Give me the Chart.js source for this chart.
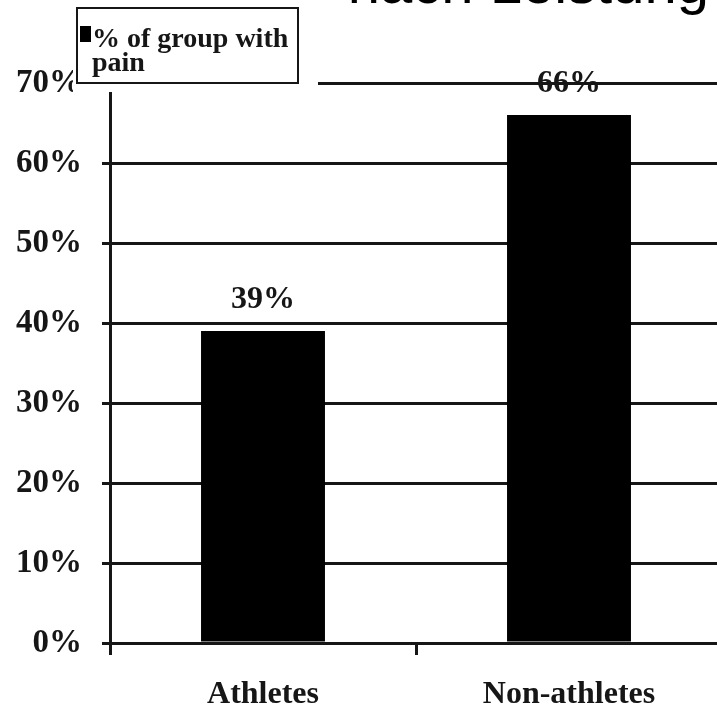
<!DOCTYPE html>
<html>
<head>
<meta charset="utf-8">
<script src="https://cdn.jsdelivr.net/npm/chart.js@4.4.1/dist/chart.umd.min.js"></script>
<style>
  html, body { margin: 0; padding: 0; background: #fff; overflow: hidden; }
  #wrap { position: relative; width: 740px; height: 715px; }
</style>
</head>
<body>
<div id="wrap"><canvas id="chart" width="740" height="715"></canvas></div>
<script>
const categories = ['Athletes', 'Non-athletes'];
const painPercent = [39, 66];
const yTicks = [0, 10, 20, 30, 40, 50, 60, 70];
const legendLines = ['% of group with', 'pain'];
const headerText = 'nach Leistung';

const INK = '#161616';
const SERIF = '"Liberation Serif", "Times New Roman", serif';

// value labels above the bars, legend box and the clipped header line
const overlay = {
    id: 'overlay',
    afterDatasetsDraw(chart) {
        const ctx = chart.ctx;
        const meta = chart.getDatasetMeta(0);
        ctx.save();
        ctx.fillStyle = INK;
        ctx.font = 'bold 32px ' + SERIF;
        ctx.textAlign = 'center';
        ctx.textBaseline = 'alphabetic';
        meta.data.forEach((bar, i) => {
            ctx.fillText(painPercent[i] + '%', bar.x, bar.y - 23);
        });
        ctx.restore();
    },
    afterDraw(chart) {
        const ctx = chart.ctx;
        ctx.save();
        // blank area behind the legend
        ctx.fillStyle = '#fff';
        ctx.fillRect(73, 0, 245, 92);
        // legend box
        ctx.strokeStyle = INK;
        ctx.lineWidth = 2;
        ctx.strokeRect(77, 8, 221, 75);
        ctx.fillStyle = '#000';
        ctx.fillRect(80, 26, 11, 16);
        ctx.fillStyle = INK;
        ctx.font = 'bold 28px ' + SERIF;
        ctx.textAlign = 'left';
        ctx.textBaseline = 'alphabetic';
        ctx.fillText(legendLines[0], 92, 47);
        ctx.fillText(legendLines[1], 92, 71);
        // header text, mostly above the top edge
        ctx.fillStyle = '#000';
        ctx.font = '58px "Liberation Sans", Arial, sans-serif';
        ctx.textAlign = 'right';
        ctx.fillText(headerText, 709, 3);
        ctx.restore();
    }
};

new Chart(document.getElementById('chart'), {
    type: 'bar',
    data: {
        labels: categories,
        datasets: [{
            label: legendLines.join(' '),
            data: painPercent,
            backgroundColor: '#000',
            borderWidth: 0,
            barPercentage: 0.405,
            categoryPercentage: 1
        }]
    },
    options: {
        responsive: false,
        animation: false,
        events: [],
        layout: { padding: { top: 83, right: 18, bottom: 0, left: 0 } },
        plugins: { legend: { display: false }, tooltip: { enabled: false } },
        scales: {
            x: {
                offset: true,
                afterFit(scale) { scale.height = 72; },
                grid: { offset: true, drawOnChartArea: false, drawTicks: true, tickLength: 12, color: INK, lineWidth: 3 },
                border: { display: true, color: INK, width: 3 },
                ticks: { color: INK, padding: 21, font: { family: SERIF, size: 32, weight: 'bold' } }
            },
            y: {
                min: yTicks[0],
                max: yTicks[yTicks.length - 1],
                afterFit(scale) { scale.width = 110; },
                afterBuildTicks(scale) { scale.ticks = yTicks.map(v => ({ value: v })); },
                grid: { color: INK, lineWidth: 3, tickLength: 8 },
                border: { display: true, color: INK, width: 3 },
                ticks: {
                    color: INK,
                    padding: 20,
                    font: { family: SERIF, size: 33, weight: 'bold' },
                    callback: v => v + '%'
                }
            }
        }
    },
    plugins: [overlay]
});
</script>
</body>
</html>
